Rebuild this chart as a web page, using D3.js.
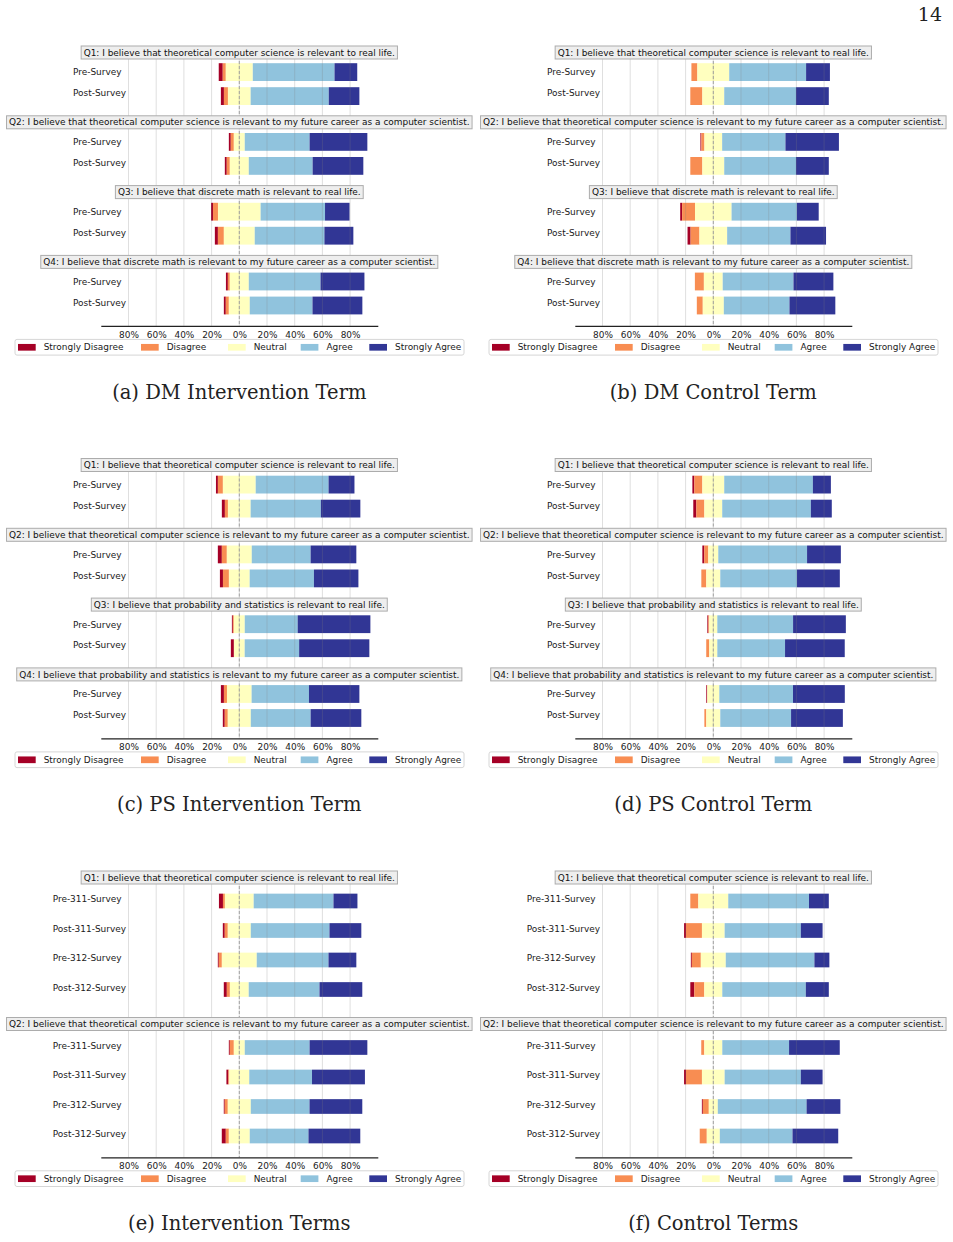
<!DOCTYPE html>
<html>
<head>
<meta charset="utf-8" />
<title>Likert survey panels</title>
<style>
    body { margin: 0; background: #fff; overflow: hidden; }
    svg text { font-family: "DejaVu Sans", sans-serif; }
    .caption, .pageno { font-family: "DejaVu Serif", serif; }
</style>
</head>
<body>
<svg id="page" width="953" height="1242"></svg>
<script src="https://d3js.org/d3.v7.min.js"></script>
<script>
    // answer levels and their colours (RdYlBu, 5 steps)
    var levels = ["Strongly Disagree", "Disagree", "Neutral", "Agree", "Strongly Agree"];
    var levelColors = ["#a50026", "#f88d52", "#ffffbf", "#90c3dd", "#313695"];
    var tickValues = [-80, -60, -40, -20, 0, 20, 40, 60, 80];

    var surveyRows = ["Pre-Survey", "Post-Survey"];
    var termRows = ["Pre-311-Survey", "Post-311-Survey", "Pre-312-Survey", "Post-312-Survey"];

    var dmQuestions = [
        "Q1: I believe that theoretical computer science is relevant to real life.",
        "Q2: I believe that theoretical computer science is relevant to my future career as a computer scientist.",
        "Q3: I believe that discrete math is relevant to real life.",
        "Q4: I believe that discrete math is relevant to my future career as a computer scientist."
    ];
    var psQuestions = [
        "Q1: I believe that theoretical computer science is relevant to real life.",
        "Q2: I believe that theoretical computer science is relevant to my future career as a computer scientist.",
        "Q3: I believe that probability and statistics is relevant to real life.",
        "Q4: I believe that probability and statistics is relevant to my future career as a computer scientist."
    ];
    var termQuestions = dmQuestions.slice(0, 2);

    // percentages per row: [SD, D, N, A, SA]
    var dmIntervention = [
        [[2.9, 2.2, 19.5, 59.0, 16.4], [2.2, 2.9, 16.4, 56.4, 22.1]],
        [[1.4, 2.2, 7.9, 46.8, 41.7], [1.4, 2.2, 13.7, 46.1, 36.6]],
        [[1.4, 3.6, 30.8, 46.5, 17.7], [2.2, 4.3, 22.3, 50.3, 20.9]],
        [[1.4, 1.4, 13.7, 51.8, 31.7], [1.4, 2.2, 15.1, 45.3, 36.0]]
    ];
    var dmControl = [
        [[0, 4.3, 23.0, 55.5, 17.2], [0, 8.7, 15.8, 51.8, 23.7]],
        [[0.7, 2.2, 12.8, 45.7, 38.6], [0, 8.7, 15.8, 51.8, 23.7]],
        [[1.4, 9.3, 26.4, 47.2, 15.7], [2.2, 6.4, 20.0, 45.7, 25.7]],
        [[0, 6.5, 13.6, 51.1, 28.8], [0, 4.3, 15.2, 47.4, 33.1]]
    ];
    var psIntervention = [
        [[1.4, 3.6, 23.7, 52.6, 18.7], [2.2, 2.2, 16.4, 50.7, 28.5]],
        [[2.9, 3.6, 18.0, 42.5, 33.0], [2.2, 4.3, 15.0, 46.4, 32.1]],
        [[0.7, 0.7, 7.9, 38.2, 52.5], [2.2, 0, 7.8, 39.3, 50.7]],
        [[2.2, 2.2, 17.8, 41.4, 36.4], [1.4, 2.2, 16.6, 43.2, 36.6]]
    ];
    var psControl = [
        [[1.4, 5.8, 15.8, 64.0, 13.0], [2.2, 5.8, 12.9, 64.0, 15.1]],
        [[1.4, 2.9, 7.2, 64.1, 24.4], [0, 3.6, 10.1, 55.4, 30.9]],
        [[0.7, 0.7, 5.8, 54.7, 38.1], [0, 2.2, 5.8, 48.9, 43.1]],
        [[0.7, 0, 8.7, 53.2, 37.4], [0, 1.4, 10.1, 51.1, 37.4]]
    ];
    var termsIntervention = [
        [[2.9, 1.4, 20.8, 57.6, 17.3], [1.4, 2.2, 16.6, 56.8, 23.0],
         [0.7, 2.2, 25.2, 51.8, 20.1], [2.2, 2.2, 13.6, 51.1, 30.9]],
        [[0.7, 2.9, 7.9, 46.8, 41.7], [1.4, 0.7, 14.4, 45.3, 38.2],
         [0.7, 2.2, 16.6, 42.4, 38.1], [2.9, 2.2, 15.1, 42.4, 37.4]]
    ];
    var termsControl = [
        [[0, 5.8, 21.6, 58.3, 14.3], [1.4, 11.5, 16.4, 55.0, 15.7],
         [0.7, 6.5, 18.0, 64.0, 10.8], [2.9, 7.2, 13.0, 60.3, 16.6]],
        [[0, 2.2, 13.0, 48.2, 36.6], [1.4, 11.5, 16.4, 55.0, 15.7],
         [0.7, 4.3, 6.5, 64.1, 24.4], [0, 5.1, 9.4, 52.5, 33.0]]
    ];

    // vertical layout for panels with 2 and 4 rows per question
    var twoRowLayout = { block: 69.8, first: 19.6, step: 24, barH: 17.8, tail: 20.4, labelFirst: 19.8, labelStep: 20.8 };
    var fourRowLayout = { block: 146.5, first: 23.5, step: 29.5, barH: 14.7, tail: 21.3, labelFirst: 21.5, labelStep: 29.6 };

    var panels = [
        { caption: "(a) DM Intervention Term", dx: 0, top: 52.5, questions: dmQuestions, rows: surveyRows, data: dmIntervention, layout: twoRowLayout },
        { caption: "(b) DM Control Term", dx: 474, top: 52.5, questions: dmQuestions, rows: surveyRows, data: dmControl, layout: twoRowLayout },
        { caption: "(c) PS Intervention Term", dx: 0, top: 465, questions: psQuestions, rows: surveyRows, data: psIntervention, layout: twoRowLayout },
        { caption: "(d) PS Control Term", dx: 474, top: 465, questions: psQuestions, rows: surveyRows, data: psControl, layout: twoRowLayout },
        { caption: "(e) Intervention Terms", dx: 0, top: 877.5, questions: termQuestions, rows: termRows, data: termsIntervention, layout: fourRowLayout },
        { caption: "(f) Control Terms", dx: 474, top: 877.5, questions: termQuestions, rows: termRows, data: termsControl, layout: fourRowLayout }
    ];

    var svg = d3.select("#page");
    var fontSize = 8.95;
    var zeroX = 239.3;
    var legendCols = [18, 141, 228, 300.7, 369.3];

    svg.append("text")
        .attr("class", "pageno")
        .attr("x", 942).attr("y", 21)
        .attr("text-anchor", "end")
        .style("font-size", "19px")
        .attr("fill", "#222")
        .text("14");

    function drawPanel(p) {
        var L = p.layout;
        var g = svg.append("g").attr("transform", `translate(${p.dx},0)`);
        var x = d3.scaleLinear().domain([-100, 100]).range([zeroX - 138.5, zeroX + 138.5]);

        var nRows = p.rows.length;
        var boxY = p.questions.map((q, k) => p.top + k * L.block);
        var lastBox = boxY[boxY.length - 1];
        var axisY = lastBox + L.first + (nRows - 1) * L.step + L.tail;
        var plotTop = p.top - 6.5;

        // label column: left aligned so the longest label ends near x = 126
        var measure = g.append("text").style("font-size", fontSize + "px");
        var maxW = d3.max(p.rows, r => { measure.text(r); return measure.node().getComputedTextLength(); });
        measure.remove();
        var labelX = 126 - maxW;

        var barLayer = g.append("g");
        var overLayer = g.append("g");

        p.questions.forEach(function (q, k) {
            p.data[k].forEach(function (vals, i) {
                var cy = boxY[k] + L.first + i * L.step;
                var start = -(vals[0] + vals[1] + vals[2] / 2);
                var segs = [];
                var acc = start;
                vals.forEach(function (v, j) {
                    segs.push({ x0: acc, x1: acc + v, j: j });
                    acc += v;
                });
                barLayer.selectAll(null)
                    .data(segs.filter(s => s.x1 > s.x0))
                    .join("rect")
                    .attr("x", s => x(s.x0))
                    .attr("width", s => x(s.x1) - x(s.x0))
                    .attr("y", cy - L.barH / 2)
                    .attr("height", L.barH)
                    .attr("fill", s => levelColors[s.j]);

                g.append("text")
                    .attr("x", labelX)
                    .attr("y", boxY[k] + L.labelFirst + i * L.labelStep)
                    .attr("dy", "0.35em")
                    .style("font-size", fontSize + "px")
                    .attr("fill", "#1a1a1a")
                    .text(p.rows[i]);
            });
        });

        // grid and zero line above the bars
        overLayer.selectAll("line.grid")
            .data(tickValues)
            .join("line")
            .attr("class", "grid")
            .attr("x1", d => x(d)).attr("x2", d => x(d))
            .attr("y1", plotTop).attr("y2", axisY)
            .attr("stroke", "rgba(128,128,128,0.25)")
            .attr("stroke-width", 1);
        overLayer.append("line")
            .attr("x1", x(0)).attr("x2", x(0))
            .attr("y1", plotTop).attr("y2", axisY)
            .attr("stroke", "#9a9a9a")
            .attr("stroke-width", 0.9)
            .attr("stroke-dasharray", "3,2");

        // question title boxes
        p.questions.forEach(function (q, k) {
            var tg = overLayer.append("g");
            var t = tg.append("text")
                .attr("x", x(0))
                .attr("y", boxY[k])
                .attr("dy", "0.35em")
                .attr("text-anchor", "middle")
                .style("font-size", fontSize + "px")
                .attr("fill", "#111")
                .text(q);
            var w = t.node().getComputedTextLength();
            tg.insert("rect", "text")
                .attr("x", x(0) - w / 2 - 2.5)
                .attr("y", boxY[k] - 6.5)
                .attr("width", w + 5)
                .attr("height", 13)
                .attr("fill", "#eeeeee")
                .attr("stroke", "#acacac")
                .attr("stroke-width", 1);
        });

        // x axis
        var axis = d3.axisBottom(x)
            .tickValues(tickValues)
            .tickFormat(d => Math.abs(d) + "%")
            .tickSize(0)
            .tickSizeOuter(0)
            .tickPadding(5.5);
        var ax = g.append("g")
            .attr("transform", `translate(0,${axisY})`)
            .call(axis);
        ax.select(".domain").attr("stroke", "#222").attr("stroke-width", 1.2);
        ax.selectAll("text")
            .style("font-size", fontSize + "px")
            .style("font-family", "DejaVu Sans")
            .attr("fill", "#1a1a1a");

        // legend
        var ly = axisY + 13.5;
        var lg = g.append("g");
        lg.append("rect")
            .attr("x", 15).attr("y", ly)
            .attr("width", 449).attr("height", 15.7)
            .attr("rx", 2)
            .attr("fill", "#fff")
            .attr("stroke", "#d6d6d6")
            .attr("stroke-width", 1);
        var items = lg.selectAll("g.item")
            .data(levels)
            .join("g")
            .attr("class", "item")
            .attr("transform", (d, i) => `translate(${legendCols[i]},${ly + 7.85})`);
        items.append("rect")
            .attr("x", 0).attr("y", -3.3)
            .attr("width", 17.7).attr("height", 6.7)
            .attr("fill", (d, i) => levelColors[i]);
        items.append("text")
            .attr("x", 25.7).attr("y", 0)
            .attr("dy", "0.35em")
            .style("font-size", fontSize + "px")
            .attr("fill", "#1a1a1a")
            .text(d => d);

        // caption
        g.append("text")
            .attr("class", "caption")
            .attr("x", x(0))
            .attr("y", axisY + 66)
            .attr("dy", "0.35em")
            .attr("text-anchor", "middle")
            .style("font-size", "19.5px")
            .attr("fill", "#222")
            .text(p.caption);
    }

    panels.forEach(drawPanel);
</script>
</body>
</html>
